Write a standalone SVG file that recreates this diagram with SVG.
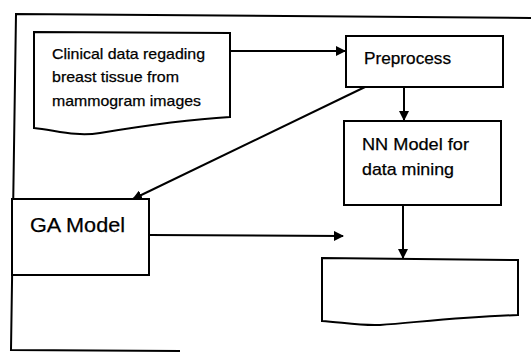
<svg xmlns="http://www.w3.org/2000/svg" width="531" height="353" viewBox="0 0 531 353">
<defs>
<style>
.box{fill:#fff;stroke:#000;stroke-width:2}
.ln{fill:none;stroke:#000;stroke-width:2}
.t{font-family:"Liberation Sans",Arial,sans-serif;fill:#000;stroke:#000;stroke-width:0.25}
</style>
<marker id="ah" markerWidth="10" markerHeight="10" refX="9" refY="5" orient="auto" markerUnits="userSpaceOnUse">
<path d="M0,0 L10,5 L0,10 Z" fill="#000"/>
</marker>
</defs>
<rect width="531" height="353" fill="#fff"/>
<polyline class="ln" points="531,18 16,14 11,350 180,351" stroke-width="1.5"/>
<g id="clinical">
<path class="box" d="M34,32 L230,33 L230,117 C180,120 130,128 100,133 C75,137 55,130 34,128 Z"/>
<text class="t" x="52" y="59" font-size="15" textLength="153" lengthAdjust="spacingAndGlyphs">Clinical data regading</text>
<text class="t" x="52" y="82" font-size="15" textLength="127" lengthAdjust="spacingAndGlyphs">breast tissue from</text>
<text class="t" x="52" y="106" font-size="15" textLength="149" lengthAdjust="spacingAndGlyphs">mammogram images</text>
</g>
<g id="preprocess">
<rect class="box" x="346" y="36" width="157" height="51"/>
<text class="t" x="364" y="64" font-size="17" textLength="87" lengthAdjust="spacingAndGlyphs">Preprocess</text>
</g>
<g id="nn">
<rect class="box" x="344" y="121" width="157" height="84"/>
<text class="t" x="362" y="150" font-size="17" textLength="107" lengthAdjust="spacingAndGlyphs">NN Model for</text>
<text class="t" x="362" y="175" font-size="17" textLength="92" lengthAdjust="spacingAndGlyphs">data mining</text>
</g>
<g id="ga">
<rect class="box" x="12" y="199" width="137" height="76"/>
<text class="t" x="30" y="232" font-size="21" textLength="95" lengthAdjust="spacingAndGlyphs">GA Model</text>
</g>
<g id="output">
<path class="box" d="M322,258 L518,260 L518,315 C460,317 420,322 380,325 C360,326 340,322 322,321 Z"/>
</g>
<g id="connectors">
<line class="ln" x1="230" y1="51" x2="345" y2="51" marker-end="url(#ah)"/>
<line class="ln" x1="404" y1="87" x2="404" y2="120" marker-end="url(#ah)"/>
<line class="ln" x1="365" y1="87" x2="133" y2="199" marker-end="url(#ah)"/>
<line class="ln" x1="403" y1="205" x2="403" y2="258" marker-end="url(#ah)"/>
<line class="ln" x1="149" y1="235" x2="343" y2="236" marker-end="url(#ah)"/>
</g>
</svg>
